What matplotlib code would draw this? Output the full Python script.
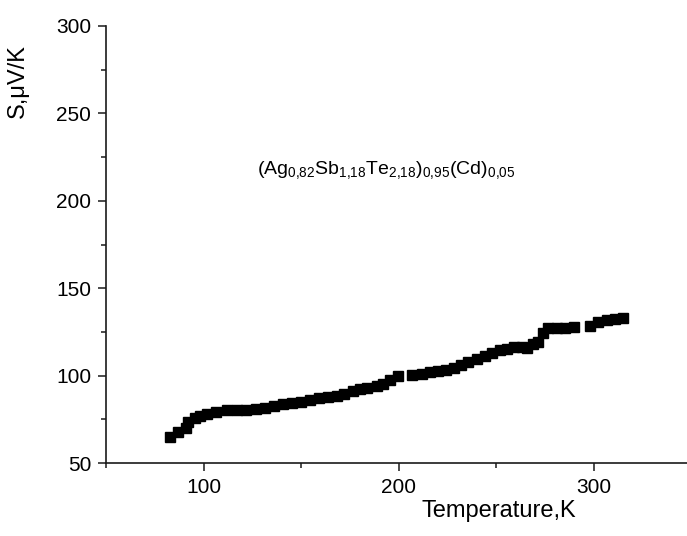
import matplotlib
matplotlib.use("Agg")
import matplotlib.pyplot as plt
from matplotlib.ticker import MultipleLocator

plt.rcParams['font.family'] = ['Liberation Sans', 'DejaVu Sans']
plt.rcParams['mathtext.fontset'] = 'custom'
plt.rcParams['mathtext.rm'] = 'Liberation Sans'
plt.rcParams['mathtext.it'] = 'Liberation Sans'

temperature = [82.6, 86.8, 91.0, 91.8, 95.4, 98.0, 101.5, 106.0, 111.8, 116.9,
               121.5, 126.7, 131.3, 136.0, 140.5, 145.0, 149.5, 154.4, 159.0, 163.5,
               168.0, 172.0, 176.4, 180.0, 183.4, 188.5, 192.0, 195.4, 199.5, 206.5,
               211.6, 216.0, 220.0, 224.0, 228.0, 232.0, 235.5, 240.0, 244.0, 247.5,
               251.8, 255.5, 259.0, 263.0, 265.5, 268.5, 271.4, 274.0, 276.6, 280.9,
               285.1, 289.7, 297.9, 302.2, 306.5, 310.8, 315.0]
seebeck = [65.2, 68.0, 70.0, 73.5, 75.7, 77.0, 78.2, 79.2, 80.3, 80.3,
           80.4, 80.9, 81.7, 82.8, 83.8, 84.5, 85.2, 86.0, 87.3, 88.0,
           88.4, 89.5, 91.5, 92.1, 92.7, 94.0, 95.5, 97.5, 99.8, 100.5,
           101.1, 102.0, 102.8, 103.5, 104.5, 106.3, 107.6, 109.7, 111.5, 113.0,
           114.6, 115.5, 116.5, 116.3, 115.6, 118.0, 119.2, 124.2, 127.0, 127.1,
           127.2, 127.6, 128.2, 130.5, 131.6, 132.4, 133.2]

x_ticks = [100, 200, 300]
y_ticks = [50, 100, 150, 200, 250, 300]

fig = plt.figure(figsize=(6.87, 5.36), dpi=100)
ax = fig.add_axes([0.155, 0.136, 0.845, 0.8155])

ax.plot(temperature, seebeck, linestyle='none', marker='s', markersize=6.5,
        color='black', markeredgecolor='black')

ax.set_xlim(50, 347.7)
ax.set_ylim(50, 300)
ax.set_xticks(x_ticks)
ax.set_yticks(y_ticks)
ax.xaxis.set_minor_locator(MultipleLocator(50))
ax.yaxis.set_minor_locator(MultipleLocator(25))

for s in ['top', 'right']:
    ax.spines[s].set_visible(False)
for s in ['left', 'bottom']:
    ax.spines[s].set_linewidth(1.2)
    ax.spines[s].set_color('#1a1a1a')

ax.tick_params(which='major', direction='out', length=6, width=1.1, labelsize=15, pad=5, color='#1a1a1a')
ax.tick_params(which='minor', direction='out', length=3.5, width=1.1, color='#1a1a1a')

ax.set_xlabel('Temperature,K', fontsize=17)
ax.xaxis.set_label_coords(0.675, -0.085)
ax.set_ylabel('S,\u03bcV/K', fontsize=17)
ax.yaxis.set_label_coords(-0.133, 0.875)

ax.text(127.0, 217.5,
        r'$\mathregular{(Ag_{0{,}82}Sb_{1{,}18}Te_{2{,}18})_{0{,}95}(Cd)_{0{,}05}}$',
        fontsize=14, ha='left', va='center')

fig.savefig('out.png', dpi=100)
